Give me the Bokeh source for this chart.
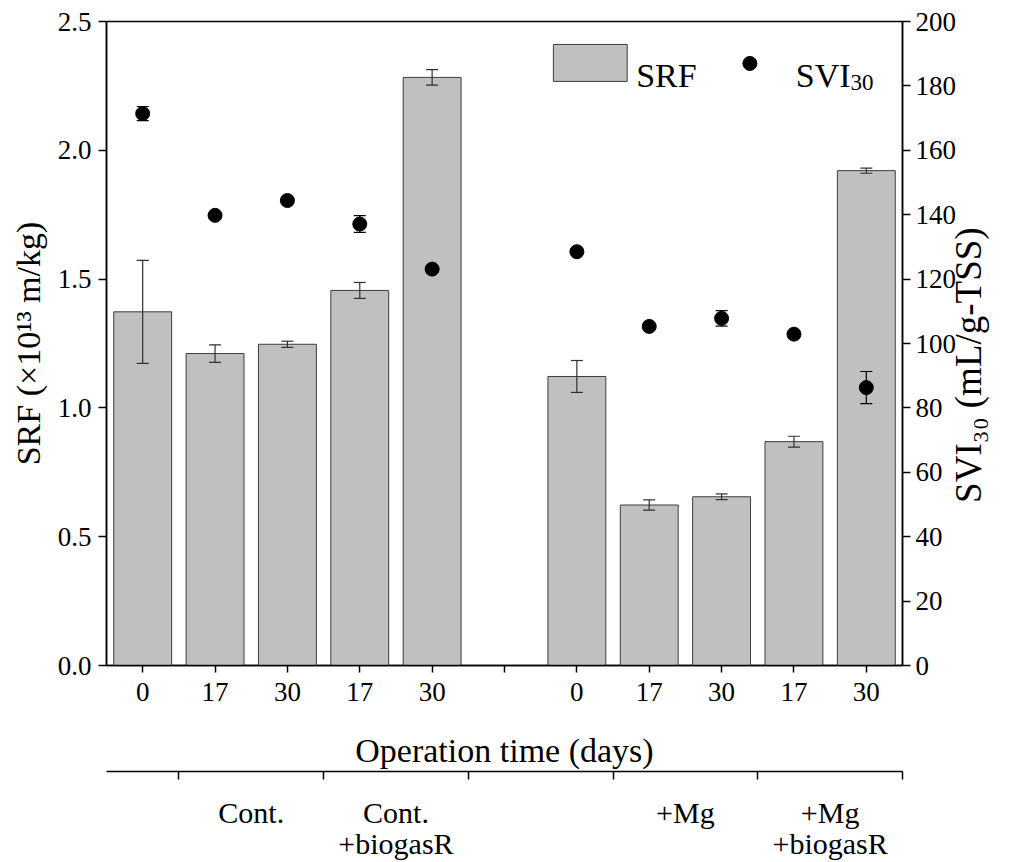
import math
from bokeh.plotting import figure
from bokeh.models import Range1d, LinearAxis, FixedTicker, Label, NumeralTickFormatter
from bokeh.embed import file_html
from bokeh.resources import INLINE

# ---------------- data ----------------
positions = [1, 2, 3, 4, 5, 7, 8, 9, 10, 11]
day_ticks = [1, 2, 3, 4, 5, 6, 7, 8, 9, 10, 11]
day_labels = ["0", "17", "30", "17", "30", "", "0", "17", "30", "17", "30"]
srf = [1.373, 1.211, 1.247, 1.456, 2.283, 1.122, 0.623, 0.655, 0.869, 1.921]
srf_err = [0.200, 0.034, 0.012, 0.031, 0.030, 0.062, 0.020, 0.011, 0.021, 0.010]
svi = [171.4, 139.8, 144.4, 137.1, 123.1, 128.5, 105.3, 107.8, 102.9, 86.3]
svi_err = [2.2, 0.5, 0.5, 2.6, 0.5, 0.5, 0.5, 2.4, 0.5, 5.0]
group_pos = [2.5, 4.5, 8.5, 10.5]
group_labels = ["Cont.", "Cont.\n+biogasR", "+Mg", "+Mg\n+biogasR"]
group_bounds = [1.5, 3.5, 5.5, 7.5, 9.5, 11.5]
srf_ticks = [0, 0.5, 1.0, 1.5, 2.0, 2.5]
svi_ticks = [0, 20, 40, 60, 80, 100, 120, 140, 160, 180, 200]
left_title = "SRF (×10¹³ m/kg)"
right_title = "SVI₃₀ (mL/g-TSS)"
right_title_start = 50.5   # SVI value at which the right title begins
x_title = "Operation time (days)"

FONT = "Liberation Serif"

# ---------------- layout (page pixels) ----------------
W, H = 1012, 862
PL, PT, PR, PB = 106, 21, 904, 666   # frame edges
XMIN, XMAX, YMAX = 0.5, 11.5, 2.5

def dx(px):
    return XMIN + (px - PL) * (XMAX - XMIN) / (PR - PL)

def dy(py):
    return (PB - py) * YMAX / (PB - PT)

p = figure(width=W, height=H, x_range=Range1d(XMIN, XMAX), y_range=Range1d(0, YMAX),
           output_backend="svg", toolbar_location=None,
           min_border_left=PL, min_border_top=PT,
           min_border_right=W - PR, min_border_bottom=H - PB)
p.extra_y_ranges = {"svi": Range1d(0, 200)}
p.xgrid.visible = False
p.ygrid.visible = False
p.outline_line_color = "black"
p.outline_line_width = 1.5
p.outline_line_alpha = 1.0
p.background_fill_color = "white"
p.border_fill_color = "white"

def style_axis(ax):
    ax.axis_line_color = "black"
    ax.axis_line_width = 1.5
    ax.major_tick_line_color = "black"
    ax.major_tick_line_width = 1.5
    ax.minor_tick_line_color = "black"
    ax.minor_tick_line_width = 1.5
    ax.major_tick_in = 0
    ax.major_tick_out = 8
    ax.minor_tick_in = 0
    ax.minor_tick_out = 0
    ax.major_label_text_font = FONT
    ax.major_label_text_font_size = "27px"
    ax.major_label_text_color = "black"
    ax.axis_label_text_font = FONT
    ax.axis_label_text_font_size = "34px"
    ax.axis_label_text_font_style = "normal"
    ax.axis_label_text_color = "black"

# bottom (days) axis
xa = p.xaxis[0]
style_axis(xa)
xa.major_tick_out = 7
xa.ticker = FixedTicker(ticks=day_ticks)
xa.major_label_overrides = {t: l for t, l in zip(day_ticks, day_labels)}
xa.major_label_standoff = 10
xa.axis_label = x_title
xa.axis_label_standoff = 28

# left axis
ya = p.yaxis[0]
style_axis(ya)
ya.ticker = FixedTicker(ticks=srf_ticks)
ya.formatter = NumeralTickFormatter(format="0.0")
ya.major_label_standoff = 7
ya.axis_label = left_title
ya.axis_label_standoff = 8

# right axis
ra = LinearAxis(y_range_name="svi", ticker=FixedTicker(ticks=svi_ticks))
style_axis(ra)
ra.major_label_standoff = 5
p.add_layout(ra, "right")

# right title: drawn as the single (rotated) label of an extra, line-less right axis
rt = LinearAxis(y_range_name="svi", ticker=FixedTicker(ticks=[right_title_start]))
style_axis(rt)
rt.axis_line_color = None
rt.major_tick_line_color = None
rt.major_tick_out = 0
rt.major_label_overrides = {right_title_start: right_title}
rt.major_label_orientation = math.pi / 2
rt.major_label_text_font_size = "37px"
rt.major_label_standoff = 9
p.add_layout(rt, "right")

# group axis below
ga = LinearAxis(ticker=FixedTicker(ticks=group_pos, minor_ticks=group_bounds))
style_axis(ga)
ga.major_tick_out = 0
ga.minor_tick_out = 8
ga.major_label_overrides = {g: l for g, l in zip(group_pos, group_labels)}
ga.major_label_text_font_size = "30px"
ga.major_label_text_line_height = 0.95
ga.major_label_standoff = 16
p.add_layout(ga, "below")

# ---------------- bars ----------------
p.vbar(x=positions, top=srf, width=0.8, fill_color="#c0c0c0", line_color="#3c3c3c", line_width=1)
lo = [v - e for v, e in zip(srf, srf_err)]
hi = [v + e for v, e in zip(srf, srf_err)]
p.segment(x0=positions, y0=lo, x1=positions, y1=hi, line_color="#303030", line_width=1.2)
p.scatter(x=positions + positions, y=lo + hi, marker="dash", size=12, line_color="#303030", line_width=1.2)

# ---------------- SVI points ----------------
slo = [v - e for v, e in zip(svi, svi_err)]
shi = [v + e for v, e in zip(svi, svi_err)]
p.segment(x0=positions, y0=slo, x1=positions, y1=shi, line_color="black", line_width=1.2, y_range_name="svi")
p.scatter(x=positions + positions, y=slo + shi, marker="dash", size=12, line_color="black", line_width=1.2,
          y_range_name="svi")
p.scatter(x=positions, y=svi, marker="circle", size=14, fill_color="black", line_color="black", y_range_name="svi")

# ---------------- legend ----------------
CW = {"S": .556, "V": .722, "I": .333}

def tw(s, size):
    return sum(CW.get(c, .5) for c in s) * size

def lab(text, px, py, size):
    p.add_layout(Label(x=dx(px), y=dy(py), text=text, text_font=FONT, text_font_size=f"{size}px",
                       text_align="left", text_baseline="alphabetic", text_color="black"))

p.rect(x=[dx(591)], y=[dy(62.5)], width=[74 * (XMAX - XMIN) / (PR - PL)], height=[37 * YMAX / (PB - PT)],
       fill_color="#c0c0c0", line_color="#3c3c3c", line_width=1)
p.scatter(x=[dx(751)], y=[dy(63)], marker="circle", size=14, fill_color="black", line_color="black")
lab("SRF", 637, 75, 34)
lab("SVI", 797, 75, 34)
lab("30", 797 + tw("SVI", 34), 82, 23)

open("out.html", "w").write(file_html(p, INLINE))
